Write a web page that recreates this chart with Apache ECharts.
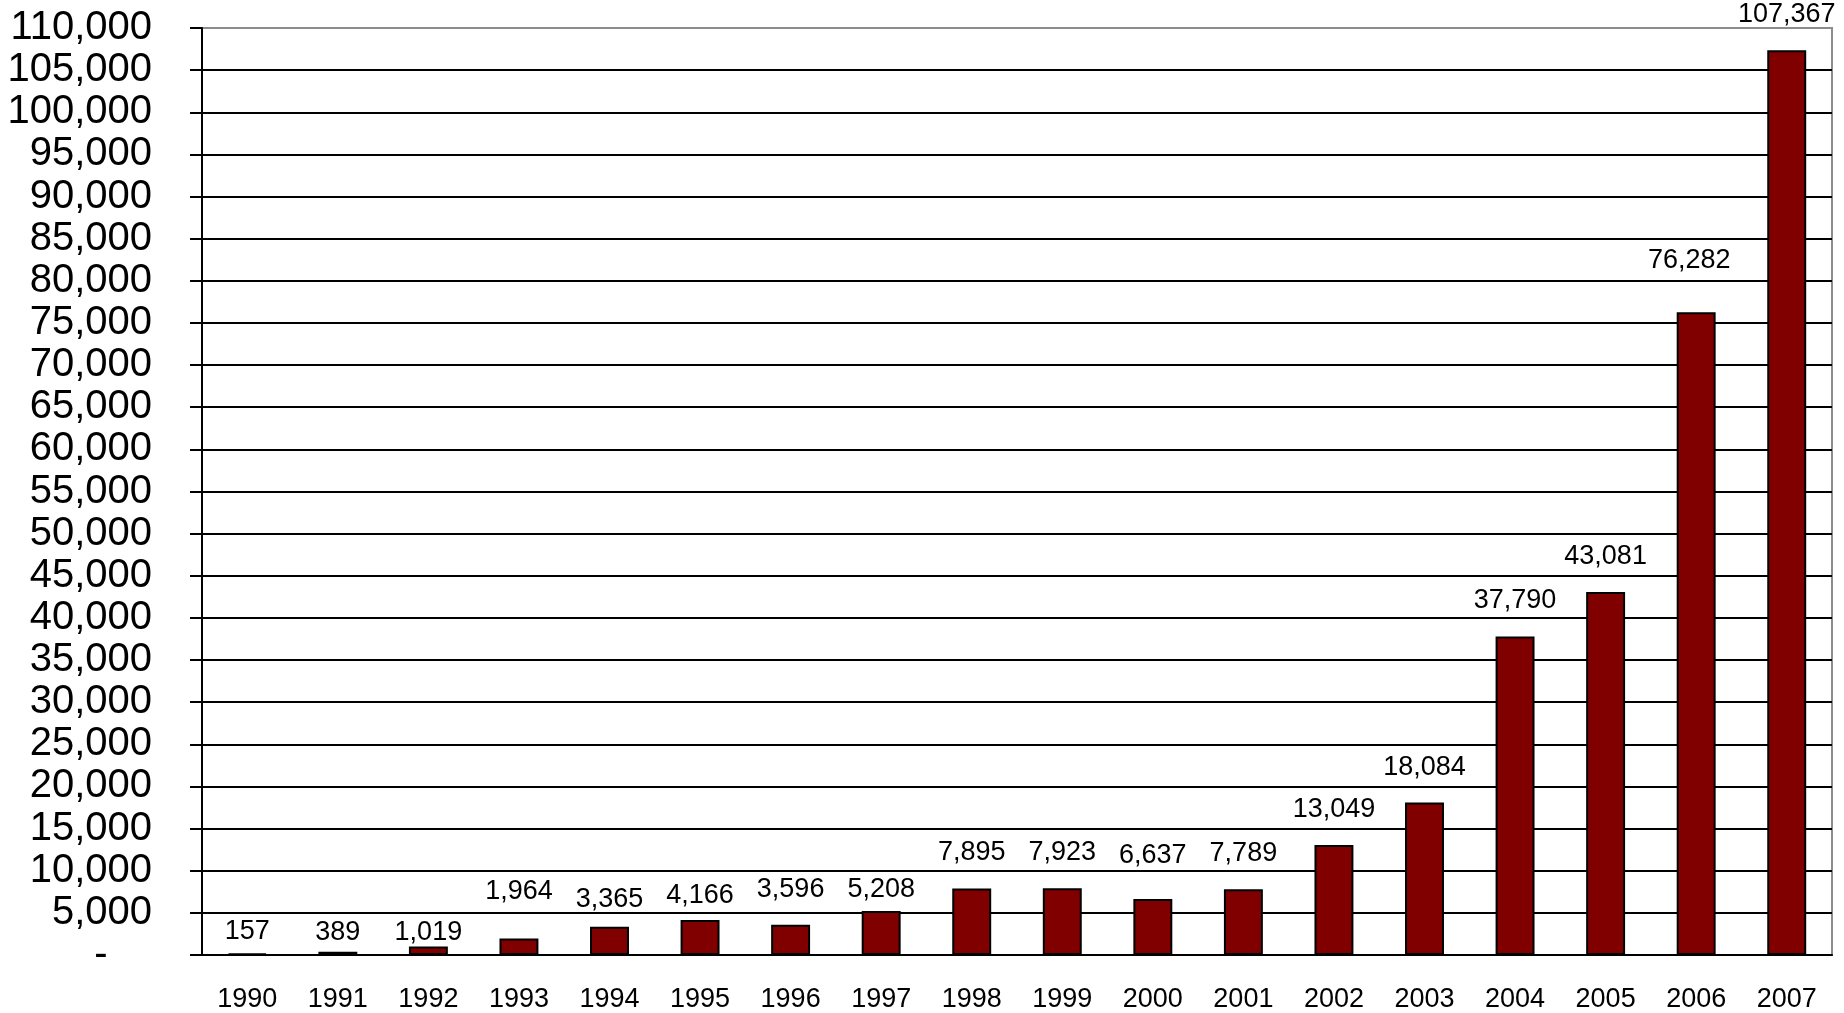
<!DOCTYPE html>
<html>
<head>
<meta charset="utf-8">
<script src="https://cdn.jsdelivr.net/npm/echarts@6/dist/echarts.min.js"></script>
<style>
    html, body { margin: 0; padding: 0; background: #fff; }
    #chart { width: 1844px; height: 1013px; }
</style>
</head>
<body>
<div id="chart"></div>
<script>
const years = ['1990', '1991', '1992', '1993', '1994', '1995', '1996', '1997', '1998',
    '1999', '2000', '2001', '2002', '2003', '2004', '2005', '2006', '2007'];
const counts = [157, 389, 1019, 1964, 3365, 4166, 3596, 5208, 7895,
    7923, 6637, 7789, 13049, 18084, 37790, 43081, 76282, 107367];

// labels in the original were nudged by hand: [dx, dy] in px, dy up is positive
const labelNudge = {
    0: [0, -14], 1: [0, -16], 2: [0, -22], 3: [0, 11], 4: [0, -8],
    5: [0, -11], 7: [0, -14], 10: [0, 8], 16: [-7, 16]
};

const font = '"Liberation Sans", Arial, sans-serif';

const myChart = echarts.init(document.getElementById('chart'));

const option = {
    animation: false,
    grid: {
        left: 202,
        right: 12,
        top: 28,
        bottom: 58,
        show: true,
        borderColor: '#8c8c8c',
        borderWidth: 2
    },
    xAxis: {
        type: 'category',
        data: years,
        axisLine: { lineStyle: { color: '#000', width: 2 } },
        axisTick: { length: 9, lineStyle: { color: '#000', width: 2 } },
        axisLabel: {
            color: '#000',
            fontFamily: font,
            fontSize: 27,
            margin: 31
        }
    },
    yAxis: {
        type: 'value',
        min: 0,
        max: 110000,
        interval: 5000,
        axisLine: { show: true, lineStyle: { color: '#000', width: 2 } },
        axisTick: { show: true, length: 12, lineStyle: { color: '#000', width: 2 } },
        axisLabel: {
            color: '#000',
            fontFamily: font,
            fontSize: 40,
            margin: 50,
            formatter: v => v === 0 ? '-    ' : v.toLocaleString('en-US')
        },
        splitLine: {
            showMinLine: false,
            showMaxLine: false,
            lineStyle: { color: '#000', width: 2 }
        }
    },
    series: [{
        type: 'bar',
        barWidth: '43%',
        itemStyle: { color: '#800000', borderColor: '#000', borderWidth: 2 },
        label: {
            show: true,
            position: 'top',
            distance: 22,
            color: '#000',
            fontFamily: font,
            fontSize: 27,
            formatter: p => p.value.toLocaleString('en-US')
        },
        data: counts.map((v, i) => labelNudge[i]
            ? { value: v, label: { offset: [labelNudge[i][0], -labelNudge[i][1]] } }
            : v)
    }]
};

myChart.setOption(option);
window.addEventListener('resize', () => myChart.resize());
</script>
</body>
</html>
